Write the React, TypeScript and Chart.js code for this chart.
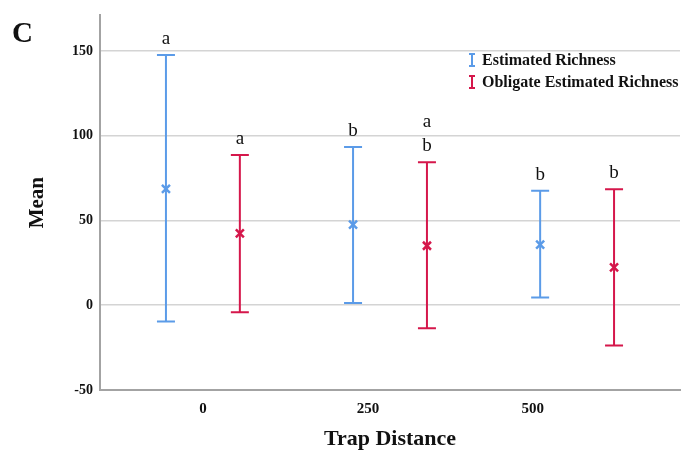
import React, { useEffect, useRef } from 'react';
import { Chart, registerables } from 'chart.js';

Chart.register(...registerables);

// ---- data ----
const trapDistances = [0, 250, 500];
const seriesLabels = ['Estimated Richness', 'Obligate Estimated Richness'];
const estMean = [68.7, 47.5, 35.7];
const estLow = [-9.6, 1.3, 4.5];
const estHigh = [147.6, 93.3, 67.5];
const oblMean = [42.4, 35.1, 22.4];
const oblLow = [-4.1, -13.5, -23.8];
const oblHigh = [88.6, 84.4, 68.5];
const estLetters = [['a'], ['b'], ['b']];
const oblLetters = [['a'], ['b', 'a'], ['b']];
const yTicks = [-50, 0, 50, 100, 150];

const BLUE = '#5b9be8';
const RED = '#d5174b';
const SERIF = '"Liberation Serif", "Times New Roman", serif';

const seriesMeans = [estMean, oblMean];
const seriesLetters = [estLetters, oblLetters];
const seriesColors = [BLUE, RED];

const decorPlugin = {
  id: 'errorDecor',
  afterDatasetsDraw(chart: any) {
    const ctx = chart.ctx;
    const yScale = chart.scales.y;
    ctx.save();
    chart.data.datasets.forEach((_ds: any, di: number) => {
      const meta = chart.getDatasetMeta(di);
      const color = seriesColors[di];
      meta.data.forEach((el: any, j: number) => {
        const x = el.x;
        const top = Math.min(el.y, el.base);
        const bot = Math.max(el.y, el.base);
        ctx.strokeStyle = color;
        ctx.lineWidth = 2;
        ctx.beginPath();
        ctx.moveTo(x - 9, top);
        ctx.lineTo(x + 9, top);
        ctx.moveTo(x - 9, bot);
        ctx.lineTo(x + 9, bot);
        ctx.stroke();
        // mean marker
        const my = yScale.getPixelForValue(seriesMeans[di][j]);
        ctx.lineWidth = 2.5;
        ctx.beginPath();
        ctx.moveTo(x - 4, my - 4);
        ctx.lineTo(x + 4, my + 4);
        ctx.moveTo(x + 4, my - 4);
        ctx.lineTo(x - 4, my + 4);
        ctx.stroke();
        // letters
        ctx.fillStyle = '#111';
        ctx.font = '19px ' + SERIF;
        ctx.textAlign = 'center';
        ctx.textBaseline = 'alphabetic';
        seriesLetters[di][j].forEach((t: string, k: number) => {
          ctx.fillText(t, x, top - 11 - k * 24);
        });
      });
    });
    ctx.restore();
  },
  afterDraw(chart: any) {
    const ctx = chart.ctx;
    const area = chart.chartArea;
    const sx = area.right - 208;
    ctx.save();
    seriesLabels.forEach((label, i) => {
      const cy = 60 + i * 22;
      ctx.strokeStyle = seriesColors[i];
      ctx.lineWidth = 2;
      ctx.beginPath();
      ctx.moveTo(sx, cy - 6);
      ctx.lineTo(sx, cy + 6);
      ctx.moveTo(sx - 3, cy - 6);
      ctx.lineTo(sx + 3, cy - 6);
      ctx.moveTo(sx - 3, cy + 6);
      ctx.lineTo(sx + 3, cy + 6);
      ctx.stroke();
      ctx.fillStyle = '#111';
      ctx.font = 'bold 16px ' + SERIF;
      ctx.textAlign = 'left';
      ctx.textBaseline = 'middle';
      ctx.fillText(label, sx + 10, cy + 1);
    });
    ctx.restore();
  },
};

export default function App() {
  const ref = useRef<HTMLCanvasElement | null>(null);

  useEffect(() => {
    if (!ref.current) return;
    Chart.defaults.font.family = SERIF;
    Chart.defaults.color = '#111';
    const chart = new Chart(ref.current, {
      type: 'bar',
      data: {
        datasets: [
          {
            label: seriesLabels[0],
            data: trapDistances.map((_d, i) => ({ x: i, y: [estLow[i], estHigh[i]] })) as any,
            backgroundColor: BLUE,
            borderWidth: 0,
            maxBarThickness: 2,
            categoryPercentage: 0.79,
            barPercentage: 1,
          },
          {
            label: seriesLabels[1],
            data: trapDistances.map((_d, i) => ({ x: i, y: [oblLow[i], oblHigh[i]] })) as any,
            backgroundColor: RED,
            borderWidth: 0,
            maxBarThickness: 2,
            categoryPercentage: 0.79,
            barPercentage: 1,
          },
        ],
      },
      options: {
        animation: false,
        responsive: true,
        maintainAspectRatio: false,
        events: [],
        layout: { padding: { top: 12, right: 2, left: 0, bottom: 0 } },
        plugins: { legend: { display: false }, tooltip: { enabled: false } },
        scales: {
          x: {
            type: 'linear',
            display: false,
            offset: false,
            min: -0.55,
            max: 2.55,
            afterBuildTicks: (s: any) => {
              s.ticks = trapDistances.map((_v, i) => ({ value: i }));
            },
          },
          xt: {
            type: 'linear',
            position: 'bottom',
            offset: false,
            min: -156,
            max: 723,
            grid: { display: false, drawTicks: false, offset: false },
            border: { display: true, color: '#a3a3a3', width: 2 },
            afterBuildTicks: (s: any) => {
              s.ticks = trapDistances.map((v) => ({ value: v }));
            },
            afterFit: (s: any) => {
              s.height = 63;
            },
            ticks: {
              padding: 10,
              font: { size: 15, weight: 'bold' },
              color: '#111',
              maxRotation: 0,
            },
            title: {
              display: true,
              text: 'Trap Distance',
              font: { size: 22, weight: 'bold' },
              color: '#111',
              padding: { top: 0, bottom: 0 },
            },
          },
          y: {
            type: 'linear',
            min: -50,
            max: 171,
            afterBuildTicks: (s: any) => {
              s.ticks = yTicks.map((v) => ({ value: v }));
            },
            afterFit: (s: any) => {
              s.width = 100;
            },
            grid: { color: '#d4d4d4', lineWidth: 1.5, drawTicks: false },
            border: { display: true, color: '#a3a3a3', width: 2 },
            ticks: {
              padding: 7,
              font: { size: 14, weight: 'bold' },
              color: '#111',
            },
            title: {
              display: true,
              text: 'Mean',
              font: { size: 21, weight: 'bold' },
              color: '#111',
              padding: { top: 25, bottom: 0 },
            },
          },
        },
      } as any,
      plugins: [decorPlugin],
    });
    return () => chart.destroy();
  }, []);

  return (
    <div style={{ position: 'absolute', left: 0, top: 0, width: 682, height: 453, background: '#fff' }}>
      <canvas ref={ref} />
      <div
        style={{
          position: 'absolute',
          left: 12,
          top: 16,
          fontFamily: SERIF,
          fontWeight: 'bold',
          fontSize: 29,
          lineHeight: '32px',
          color: '#111',
        }}
      >
        C
      </div>
    </div>
  );
}
